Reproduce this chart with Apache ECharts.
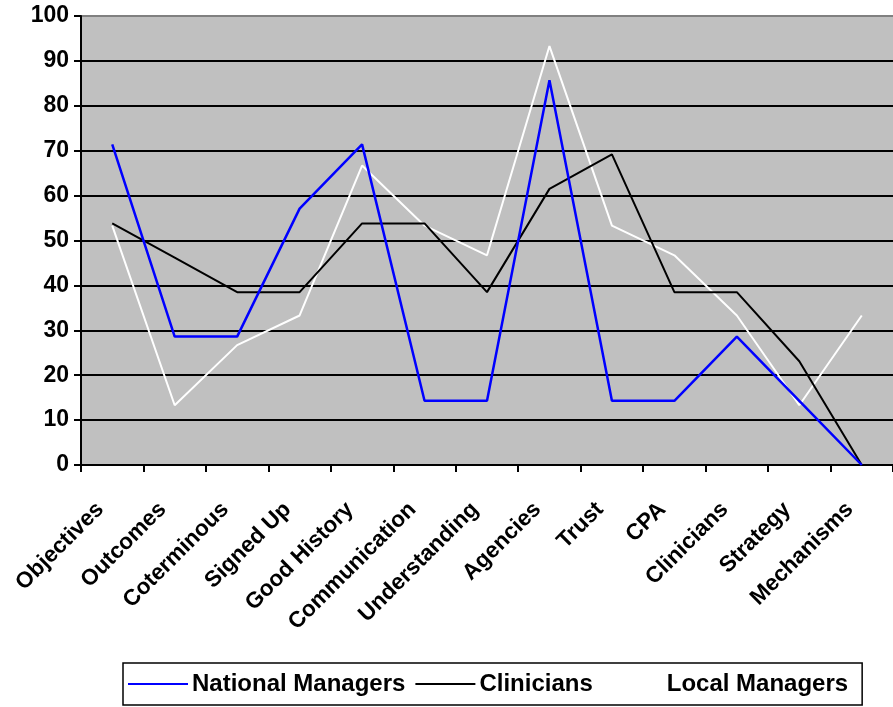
<!DOCTYPE html>
<html>
<head>
<meta charset="utf-8">
<script src="https://cdn.jsdelivr.net/npm/echarts@6/dist/echarts.min.js"></script>
<style>
  html, body { margin: 0; padding: 0; background: #fff; }
  #chart { width: 893px; height: 707px; }
</style>
</head>
<body>
<div id="chart"></div>
<script>
// categories along the x axis
const categories = ["Objectives", "Outcomes", "Coterminous", "Signed Up", "Good History",
  "Communication", "Understanding", "Agencies", "Trust", "CPA", "Clinicians", "Strategy", "Mechanisms"];

// percentages
const nationalManagers = [71.4, 28.6, 28.6, 57.1, 71.4, 14.3, 14.3, 85.7, 14.3, 14.3, 28.6, 14.3, 0];
const clinicians = [53.8, 46.2, 38.5, 38.5, 53.8, 53.8, 38.5, 61.5, 69.2, 38.5, 38.5, 23.1, 0];
const localManagers = [53.3, 13.3, 26.7, 33.3, 66.7, 53.3, 46.7, 93.3, 53.3, 46.7, 33.3, 13.3, 33.3];

const font = "Liberation Sans, Arial, sans-serif";

// gridline colours, last one (100) is the grey top border
const gridColors = ["#000", "#000", "#000", "#000", "#000", "#000", "#000", "#000", "#000", "#000", "#808080"];

const chart = echarts.init(document.getElementById("chart"));

const option = {
  animation: false,
  grid: { left: 81, top: 16, right: 0, bottom: 242, backgroundColor: "#C0C0C0", show: true, borderWidth: 0 },
  legend: {
    left: 123,
    top: 663,
    padding: [9, 14, 9, 5],
    backgroundColor: "#fff",
    borderColor: "#000",
    borderWidth: 1.5,
    icon: "rect",
    itemWidth: 60,
    itemHeight: 2,
    itemGap: 10,
    textStyle: { fontFamily: font, fontWeight: "bold", fontSize: 24, color: "#000", padding: [0, 0, 0, -1] },
    data: ["National Managers", "Clinicians", "Local Managers"]
  },
  xAxis: {
    type: "category",
    data: categories,
    boundaryGap: true,
    axisLine: { show: true, lineStyle: { color: "#000", width: 2 } },
    axisTick: { show: true, interval: 0, length: 7, lineStyle: { color: "#000", width: 2 } },
    axisLabel: {
      interval: 0,
      rotate: 45,
      margin: 29,
      padding: [0, 17, 0, 0],
      fontFamily: font,
      fontWeight: "bold",
      fontSize: 22.5,
      color: "#000"
    },
    splitLine: { show: false }
  },
  yAxis: {
    type: "value",
    min: 0,
    max: 100,
    interval: 10,
    axisLine: { show: true, lineStyle: { color: "#000", width: 2 } },
    axisTick: { show: true, length: 7, lineStyle: { color: "#000", width: 2 } },
    axisLabel: { margin: 12, fontFamily: font, fontWeight: "bold", fontSize: 23, color: "#000" },
    splitLine: { show: true, lineStyle: { color: gridColors, width: 2 } }
  },
  series: [
    {
      name: "National Managers",
      type: "line",
      data: nationalManagers,
      symbol: "none",
      lineStyle: { color: "#0000FF", width: 2.5 },
      itemStyle: { color: "#0000FF" },
      z: 4
    },
    {
      name: "Clinicians",
      type: "line",
      data: clinicians,
      symbol: "none",
      lineStyle: { color: "#000", width: 2 },
      itemStyle: { color: "#000" },
      z: 3
    },
    {
      name: "Local Managers",
      type: "line",
      data: localManagers,
      symbol: "none",
      lineStyle: { color: "#fff", width: 2 },
      itemStyle: { color: "#fff" },
      z: 2
    }
  ]
};

chart.setOption(option);
</script>
</body>
</html>
